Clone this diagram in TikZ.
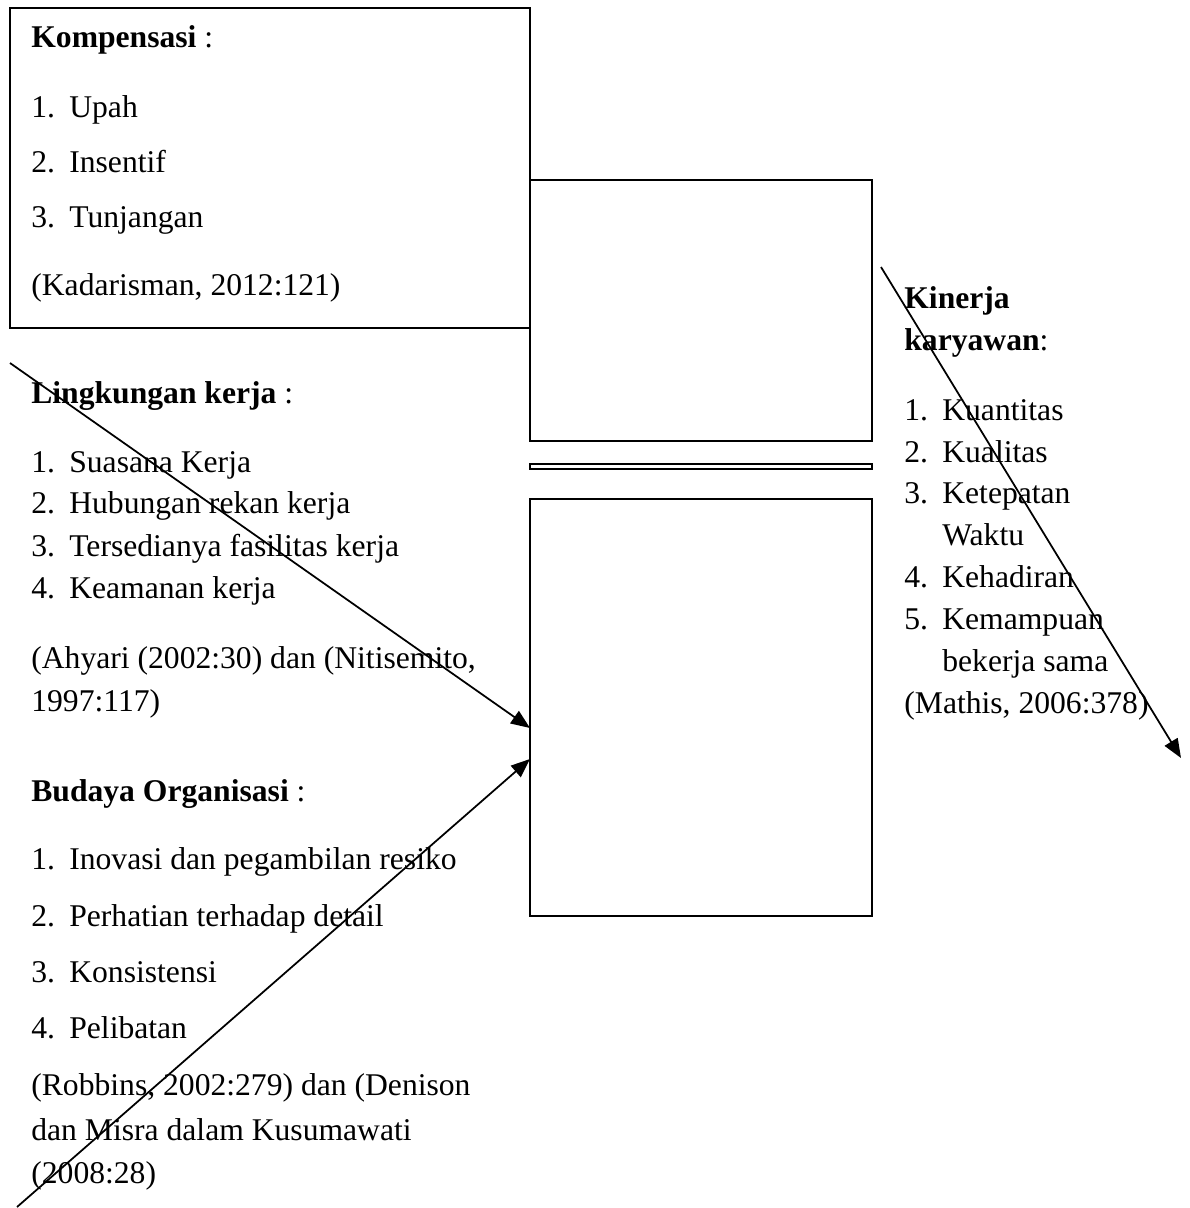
\documentclass[tikz,border=0pt]{standalone}
\usepackage{fontspec}
\setmainfont{Liberation Serif}
\usetikzlibrary{arrows.meta}
\newcommand{\numitem}[2]{\makebox[0.76cm][l]{#1}#2}
\tikzset{
	frame/.style={draw, line width=1pt, inner sep=0pt, outer sep=0pt},
	txt/.style={anchor=base west, inner sep=0pt, font=\fontsize{18}{22}\selectfont},
	arr/.style={-{Triangle[length=0.38cm,width=0.3cm]}, line width=1pt}
}

\begin{document}
\begin{tikzpicture}[x=0.02cm, y=-0.02cm]
		\useasboundingbox (0,0) rectangle (1190,1208);
		
		% boxes
		\node[frame, minimum width=10.4cm, minimum height=6.4cm] (kompbox) at (270,168) {};
		\node[frame, minimum width=6.84cm, minimum height=5.22cm] (upperbox) at (701,310.5) {};
		\node[frame, minimum width=6.84cm, minimum height=0.1cm] (barbox) at (701,466.5) {};
		\node[frame, minimum width=6.84cm, minimum height=8.34cm] (lowerbox) at (701,707.5) {};
		
		% Kompensasi
		\node[txt] (komp) at (31,47) {\textbf{Kompensasi} :};
		\node[txt] (upah) at (31,117) {\numitem{1.}{Upah}};
		\node[txt] (insentif) at (31,172) {\numitem{2.}{Insentif}};
		\node[txt] (tunjangan) at (31,227) {\numitem{3.}{Tunjangan}};
		\node[txt] (kadar) at (31,295) {(Kadarisman, 2012:121)};
		
		% Lingkungan kerja
		\node[txt] (ling) at (31,403) {\textbf{Lingkungan kerja} :};
		\node[txt] (suasana) at (31,472) {\numitem{1.}{Suasana Kerja}};
		\node[txt] (hubungan) at (31,513) {\numitem{2.}{Hubungan rekan kerja}};
		\node[txt] (fasilitas) at (31,556) {\numitem{3.}{Tersedianya fasilitas kerja}};
		\node[txt] (keamanan) at (31,598) {\numitem{4.}{Keamanan kerja}};
		\node[txt] (ahyari) at (31,668) {(Ahyari (2002:30) dan (Nitisemito,};
		\node[txt] (ahyaritwo) at (31,711) {1997:117)};
		
		% Budaya Organisasi
		\node[txt] (budaya) at (31,801) {\textbf{Budaya Organisasi} :};
		\node[txt] (inovasi) at (31,869) {\numitem{1.}{Inovasi dan pegambilan resiko}};
		\node[txt] (detail) at (31,926) {\numitem{2.}{Perhatian terhadap detail}};
		\node[txt] (konsisten) at (31,982) {\numitem{3.}{Konsistensi}};
		\node[txt] (pelibatan) at (31,1038) {\numitem{4.}{Pelibatan}};
		\node[txt] (robbins) at (31,1095) {(Robbins, 2002:279) dan (Denison};
		\node[txt] (misra) at (31,1140) {dan Misra dalam Kusumawati};
		\node[txt] (kusuma) at (31,1183) {(2008:28)};
		
		% Kinerja karyawan
		\node[txt] (kinerja) at (904,308) {\textbf{Kinerja}};
		\node[txt] (karyawan) at (904,350) {\textbf{karyawan}:};
		\node[txt] (kuantitas) at (904,420) {\numitem{1.}{Kuantitas}};
		\node[txt] (kualitas) at (904,462) {\numitem{2.}{Kualitas}};
		\node[txt] (ketepatan) at (904,503) {\numitem{3.}{Ketepatan}};
		\node[txt] (waktu) at (942,545) {Waktu};
		\node[txt] (kehadiran) at (904,587) {\numitem{4.}{Kehadiran}};
		\node[txt] (kemampuan) at (904,629) {\numitem{5.}{Kemampuan}};
		\node[txt] (bekerja) at (942,671) {bekerja sama};
		\node[txt] (mathis) at (904,713) {(Mathis, 2006:378)};
		
		% arrows
		\coordinate (lingStart) at (10,363);
		\coordinate (lingEnd) at (530,728);
		\coordinate (budStart) at (17,1207);
		\coordinate (budEnd) at (530,759);
		\coordinate (kinStart) at (881,267);
		\coordinate (kinEnd) at (1181,758);
		\draw[arr] (lingStart) -- (lingEnd);
		\draw[arr] (budStart) -- (budEnd);
		\draw[arr] (kinStart) -- (kinEnd);
	\end{tikzpicture}
\end{document}
